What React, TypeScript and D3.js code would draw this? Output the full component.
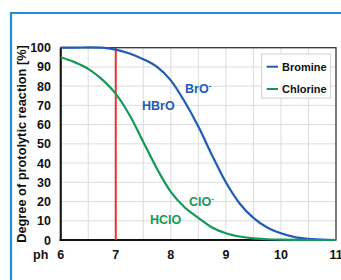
import React, { useEffect, useRef } from "react";
import * as d3 from "d3";

// pH values and degree of protolytic reaction (%)
const phValues = [6, 6.25, 6.5, 6.75, 7, 7.25, 7.5, 7.75, 8, 8.25, 8.5, 8.75, 9, 9.25, 9.5, 9.75, 10, 10.25, 10.5, 10.75, 11];
const bromine = [100, 100, 100.2, 100, 99, 97, 94, 90, 83, 72, 59, 44, 30, 19, 11.5, 6.5, 3.5, 1.5, 0.6, 0.2, 0];
const chlorine = [95, 92.5, 89, 83.5, 76, 65, 51, 37, 25, 17, 11.5, 6.5, 3.5, 1.8, 0.8, 0.4, 0.2, 0.1, 0, 0, 0];
const xTicks = [6, 7, 8, 9, 10, 11];
const yTicks = [0, 10, 20, 30, 40, 50, 60, 70, 80, 90, 100];
const seriesNames = ["Bromine", "Chlorine"];
const seriesColors = ["#1f5bb8", "#15995a"];

const W = 341;
const H = 280;
const FONT = "'Liberation Sans', Arial, sans-serif";

const App: React.FC = () => {
    const svgRef = useRef<SVGSVGElement | null>(null);

    useEffect(() => {
        const svg = d3.select(svgRef.current);
        svg.selectAll("*").remove();

        const left = 60.7, right = 336, top = 47.7, bottom = 240;
        const x = d3.scaleLinear().domain([6, 11]).range([left, right]);
        const y = d3.scaleLinear().domain([0, 100]).range([bottom, top]);

        svg.append("rect").attr("width", W).attr("height", H).attr("fill", "#fff");

        // blue frame
        svg.append("line").attr("x1", 10).attr("x2", W).attr("y1", 13).attr("y2", 13)
            .attr("stroke", "#1a90dc").attr("stroke-width", 2.2);
        svg.append("line").attr("x1", 11).attr("x2", 11).attr("y1", 12).attr("y2", H)
            .attr("stroke", "#1a90dc").attr("stroke-width", 2.2);

        // grid
        const g = svg.append("g");
        d3.range(6.5, 11, 0.5).forEach(v => {
            g.append("line").attr("x1", x(v)).attr("x2", x(v)).attr("y1", top).attr("y2", bottom)
                .attr("stroke", "#dcdcdc").attr("stroke-width", 1);
        });
        yTicks.slice(1, -1).forEach(v => {
            g.append("line").attr("x1", left).attr("x2", right).attr("y1", y(v)).attr("y2", y(v))
                .attr("stroke", "#dcdcdc").attr("stroke-width", 1);
        });

        // plot border
        svg.append("rect").attr("x", left).attr("y", top).attr("width", right - left).attr("height", bottom - top)
            .attr("fill", "none").attr("stroke", "#333").attr("stroke-width", 1.3);
        svg.append("line").attr("x1", left).attr("x2", left).attr("y1", top).attr("y2", bottom + 1)
            .attr("stroke", "#111").attr("stroke-width", 2);
        svg.append("line").attr("x1", left - 1).attr("x2", right).attr("y1", bottom).attr("y2", bottom)
            .attr("stroke", "#111").attr("stroke-width", 2);

        // red line at pH 7
        svg.append("line").attr("x1", x(7)).attr("x2", x(7)).attr("y1", top).attr("y2", bottom)
            .attr("stroke", "#e8342a").attr("stroke-width", 2);

        // curves
        const line = d3.line<number>()
            .x((_, i) => x(phValues[i]))
            .y(d => y(d))
            .curve(d3.curveMonotoneX);
        [bromine, chlorine].forEach((s, i) => {
            svg.append("path").attr("d", line(s) as string).attr("fill", "none")
                .attr("stroke", seriesColors[i]).attr("stroke-width", 2.2);
        });

        // tick labels
        yTicks.forEach(v => {
            svg.append("text").attr("x", 51).attr("y", y(v)).attr("dy", "0.36em")
                .attr("text-anchor", "end").attr("font-family", FONT).attr("font-weight", "bold")
                .attr("font-size", 12.5).attr("fill", "#111").text(v);
        });
        xTicks.forEach(v => {
            svg.append("text").attr("x", x(v)).attr("y", 259)
                .attr("text-anchor", "middle").attr("font-family", FONT).attr("font-weight", "bold")
                .attr("font-size", 12.5).attr("fill", "#111").text(v);
        });
        svg.append("text").attr("x", 33).attr("y", 259).attr("font-family", FONT).attr("font-weight", "bold")
            .attr("font-size", 12.5).attr("fill", "#111").text("ph");

        // y axis title
        svg.append("text").attr("transform", `translate(26,${(43 + 245) / 2}) rotate(-90)`)
            .attr("text-anchor", "middle").attr("font-family", FONT).attr("font-weight", "bold")
            .attr("font-size", 12.8).attr("fill", "#111").text("Degree of protolytic reaction [%]");

        // species labels
        const labels = [
            { t: "BrO", sup: true, x: 185, y: 92.5, c: 0 },
            { t: "HBrO", sup: false, x: 142, y: 109.5, c: 0 },
            { t: "ClO", sup: true, x: 189, y: 205.5, c: 1 },
            { t: "HClO", sup: false, x: 150, y: 223.5, c: 1 },
        ];
        labels.forEach(l => {
            const t = svg.append("text").attr("x", l.x).attr("y", l.y).attr("font-family", FONT)
                .attr("font-weight", "bold").attr("font-size", 12.5).attr("fill", seriesColors[l.c]);
            t.append("tspan").text(l.t);
            if (l.sup) t.append("tspan").attr("dy", -5).attr("font-size", 8).text("-");
        });

        // legend
        svg.append("rect").attr("x", 261.7).attr("y", 54).attr("width", 69).attr("height", 44)
            .attr("fill", "#fff").attr("stroke", "#cfcfcf").attr("stroke-width", 1);
        seriesNames.forEach((n, i) => {
            const ly = 66.7 + i * 22.3;
            svg.append("line").attr("x1", 266.7).attr("x2", 278).attr("y1", ly).attr("y2", ly)
                .attr("stroke", seriesColors[i]).attr("stroke-width", 2);
            svg.append("text").attr("x", 282).attr("y", ly).attr("dy", "0.36em").attr("font-family", FONT)
                .attr("font-weight", "bold").attr("font-size", 11).attr("fill", "#111").text(n);
        });
    }, []);

    return <svg ref={svgRef} width={W} height={H} style={{ position: "absolute", left: 0, top: 0 }} />;
};

export default App;
